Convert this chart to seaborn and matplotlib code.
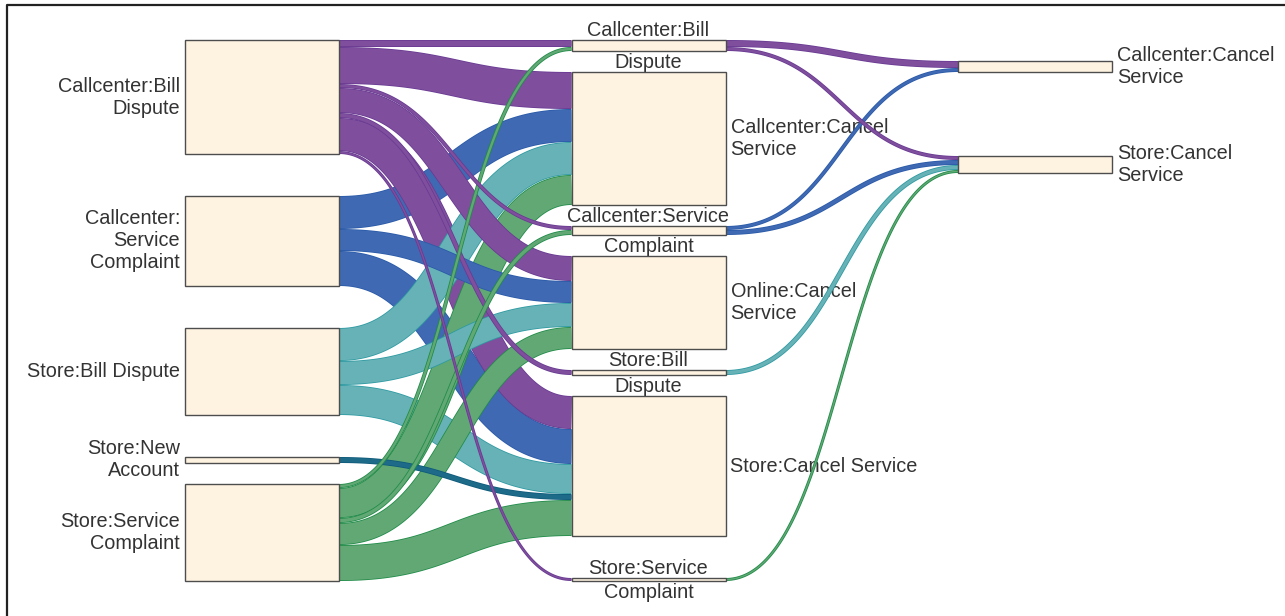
import numpy as np
import pandas as pd
import matplotlib.pyplot as plt
from matplotlib.patches import Rectangle
import seaborn as sns

sns.set_theme(style="white")
plt.rcParams['font.family'] = ['Liberation Sans', 'DejaVu Sans']
plt.rcParams['path.simplify'] = False

# every step has a slot for each event type, empty slots get zero height
categories = ["Callcenter:Bill Dispute", "Callcenter:Cancel Service",
              "Callcenter:Service Complaint", "Online:Cancel Service",
              "Store:Bill Dispute", "Store:Cancel Service",
              "Store:New Account", "Store:Service Complaint"]

# step 1 -> step 2
flow1_source = ["Callcenter:Bill Dispute"] * 7 + ["Callcenter:Service Complaint"] * 3 \
    + ["Store:Bill Dispute"] * 3 + ["Store:New Account"] + ["Store:Service Complaint"] * 5
flow1_target = ["Callcenter:Bill Dispute", "Callcenter:Cancel Service", "Callcenter:Service Complaint",
                "Online:Cancel Service", "Store:Bill Dispute", "Store:Cancel Service",
                "Store:Service Complaint",
                "Callcenter:Cancel Service", "Online:Cancel Service", "Store:Cancel Service",
                "Callcenter:Cancel Service", "Online:Cancel Service", "Store:Cancel Service",
                "Store:Cancel Service",
                "Callcenter:Bill Dispute", "Callcenter:Cancel Service", "Callcenter:Service Complaint",
                "Online:Cancel Service", "Store:Cancel Service"]
flow1_value = [7, 37, 4, 25, 5, 33, 3,
               33, 22, 35,
               33, 24, 30,
               6,
               4, 30, 5, 22, 36]

# step 2 -> step 3
flow2_source = ["Callcenter:Bill Dispute", "Callcenter:Bill Dispute",
                "Callcenter:Service Complaint", "Callcenter:Service Complaint",
                "Store:Bill Dispute", "Store:Service Complaint"]
flow2_target = ["Callcenter:Cancel Service", "Store:Cancel Service",
                "Callcenter:Cancel Service", "Store:Cancel Service",
                "Store:Cancel Service", "Store:Cancel Service"]
flow2_value = [7, 4, 4, 5, 5, 3]

step1_labels = {"Callcenter:Bill Dispute": "Callcenter:Bill\nDispute",
                "Callcenter:Service Complaint": "Callcenter:\nService\nComplaint",
                "Store:Bill Dispute": "Store:Bill Dispute",
                "Store:New Account": "Store:New\nAccount",
                "Store:Service Complaint": "Store:Service\nComplaint"}
step2_labels = {"Callcenter:Bill Dispute": "Callcenter:Bill\nDispute",
                "Callcenter:Cancel Service": "Callcenter:Cancel\nService",
                "Callcenter:Service Complaint": "Callcenter:Service\nComplaint",
                "Online:Cancel Service": "Online:Cancel\nService",
                "Store:Bill Dispute": "Store:Bill\nDispute",
                "Store:Cancel Service": "Store:Cancel Service",
                "Store:Service Complaint": "Store:Service\nComplaint"}
step3_labels = {"Callcenter:Cancel Service": "Callcenter:Cancel\nService",
                "Store:Cancel Service": "Store:Cancel\nService"}
labels = [step1_labels, step2_labels, step3_labels]

# link colour by the event it starts from: (fill, edge)
link_colors = {"Callcenter:Bill Dispute": ("#7f4f9e", "#693a92"),
               "Callcenter:Service Complaint": ("#3f69b3", "#2a5aa8"),
               "Store:Bill Dispute": ("#67b2b6", "#2d9aa2"),
               "Store:New Account": ("#1e6b89", "#0e5a7a"),
               "Store:Service Complaint": ("#61a874", "#1f8b48")}

links = pd.concat([
    pd.DataFrame({"step": 0, "source": flow1_source, "target": flow1_target, "value": flow1_value}),
    pd.DataFrame({"step": 1, "source": flow2_source, "target": flow2_target, "value": flow2_value}),
], ignore_index=True)
cat_idx = {c: i for i, c in enumerate(categories)}
links["si"] = links["source"].map(cat_idx)
links["ti"] = links["target"].map(cat_idx)

# --- layout (pixel coordinates, y grows downwards) ---
W, H = 1285, 616
y_top, y_bot = 40, 581
x_left, x_right = 185, 1112
node_w = 154
pad = 21
n_steps = 3
n_cat = len(categories)

out_sum = np.zeros((n_steps, n_cat))
in_sum = np.zeros((n_steps, n_cat))
for _, r in links.iterrows():
    out_sum[r.step, r.si] += r.value
    in_sum[r.step + 1, r.ti] += r.value
node_val = np.maximum(out_sum, in_sum)

ky = min((y_bot - y_top - (n_cat - 1) * pad) / node_val[s].sum() for s in range(n_steps))
node_y0 = np.zeros((n_steps, n_cat))
for s in range(n_steps):
    y = y_top
    for c in range(n_cat):
        node_y0[s, c] = y
        y += node_val[s, c] * ky + pad
node_h = node_val * ky
node_x = [x_left + s * (x_right - x_left - node_w) / (n_steps - 1) for s in range(n_steps)]

links["w"] = links["value"] * ky
links["ys"] = 0.0
links["yt"] = 0.0
for s in range(n_steps - 1):
    for c in range(n_cat):
        sub = links[(links.step == s) & (links.si == c)].sort_values("ti")
        links.loc[sub.index, "ys"] = node_y0[s, c] + sub["w"].cumsum() - sub["w"]
        sub = links[(links.step == s) & (links.ti == c)].sort_values("si")
        links.loc[sub.index, "yt"] = node_y0[s + 1, c] + sub["w"].cumsum() - sub["w"]

fig = plt.figure(figsize=(W / 100, H / 100), dpi=100)
ax = fig.add_axes([0, 0, 1, 1])
ax.set_xlim(0, W)
ax.set_ylim(H, 0)
ax.axis("off")

# frame
ax.plot([7, 7, W], [H, 5, 5], color="#222222", lw=1.6, solid_capstyle="butt", zorder=5)

px = 72 / fig.dpi
t = np.linspace(0, 1, 120)
for _, r in links.sort_values("value", ascending=False).iterrows():
    xs = node_x[r.step] + node_w
    xt = node_x[r.step + 1]
    xm = (xs + xt) / 2
    ya = r.ys + r.w / 2
    yb = r.yt + r.w / 2
    bx = (1 - t) ** 3 * xs + 3 * (1 - t) ** 2 * t * xm + 3 * (1 - t) * t ** 2 * xm + t ** 3 * xt
    by = (1 - t) ** 3 * ya + 3 * (1 - t) ** 2 * t * ya + 3 * (1 - t) * t ** 2 * yb + t ** 3 * yb
    fill, edge = link_colors[r.source]
    ax.plot(bx, by, color=edge, lw=r.w * px, solid_capstyle="butt",
            solid_joinstyle="round", snap=False, zorder=3)
    if r.w > 1.6:
        ax.plot(bx, by, color=fill, lw=(r.w - 1.6) * px, solid_capstyle="butt",
                solid_joinstyle="round", snap=False, zorder=3)

text_kw = dict(fontsize=14.3, color="#333333", zorder=2)
for s in range(n_steps):
    for c, name in enumerate(categories):
        if node_val[s, c] == 0:
            continue
        x0 = node_x[s]
        y0 = node_y0[s, c]
        h = node_h[s, c]
        ax.add_patch(Rectangle((x0, y0), node_w, h, facecolor="#fef3e0",
                               edgecolor="#4d4d4d", lw=1.0, zorder=4))
        lab = labels[s][name]
        yc = y0 + h / 2
        if s == 0:
            ax.text(x0 - 5, yc, lab, ha="right", va="center", **text_kw)
        elif s == n_steps - 1 or h >= 20:
            ax.text(x0 + node_w + 5, yc, lab, ha="left", va="center", **text_kw)
        else:
            first, second = lab.split("\n")
            ax.text(x0 + node_w / 2, y0 - 10, first, ha="center", va="center", **text_kw)
            ax.text(x0 + node_w / 2, y0 + h + 11, second, ha="center", va="center", **text_kw)

fig.savefig("out.png", dpi=100)
